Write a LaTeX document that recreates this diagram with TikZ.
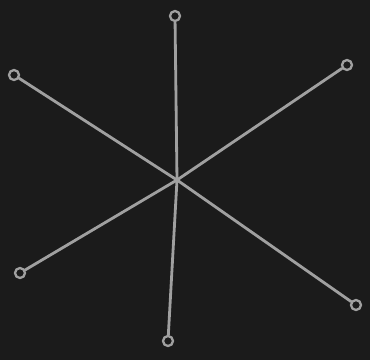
\documentclass[tikz,border=0pt]{standalone}
\usepackage{tikz}
\usetikzlibrary{positioning}
\definecolor{board}{RGB}{27,27,27}
\definecolor{chalk}{RGB}{160,160,160}

\begin{document}
\begin{tikzpicture}[x=0.02cm, y=-0.02cm,
  ray/.style={chalk, line width=1.6pt, line cap=round},
  loopend/.style={circle, draw=chalk, line width=1.3pt, inner sep=0pt, minimum size=0.2cm}]
  % board
  \fill[board] (0,0) rectangle (370,360);
  \useasboundingbox (0,0) rectangle (370,360);
  % centre and rope ends
  \coordinate (hub) at (177,180);
  \node[loopend] (top) at (175,16) {};
  \node[loopend] (bottom) at (168,341) {};
  \node[loopend] (upleft) at (14,75) {};
  \node[loopend] (upright) at (347,65) {};
  \node[loopend] (lowleft) at (20,273) {};
  \node[loopend] (lowright) at (356,305) {};
  % rays
  \foreach \e in {top, bottom, upleft, upright, lowleft, lowright}
    \draw[ray] (hub) -- (\e);
\end{tikzpicture}
\end{document}
